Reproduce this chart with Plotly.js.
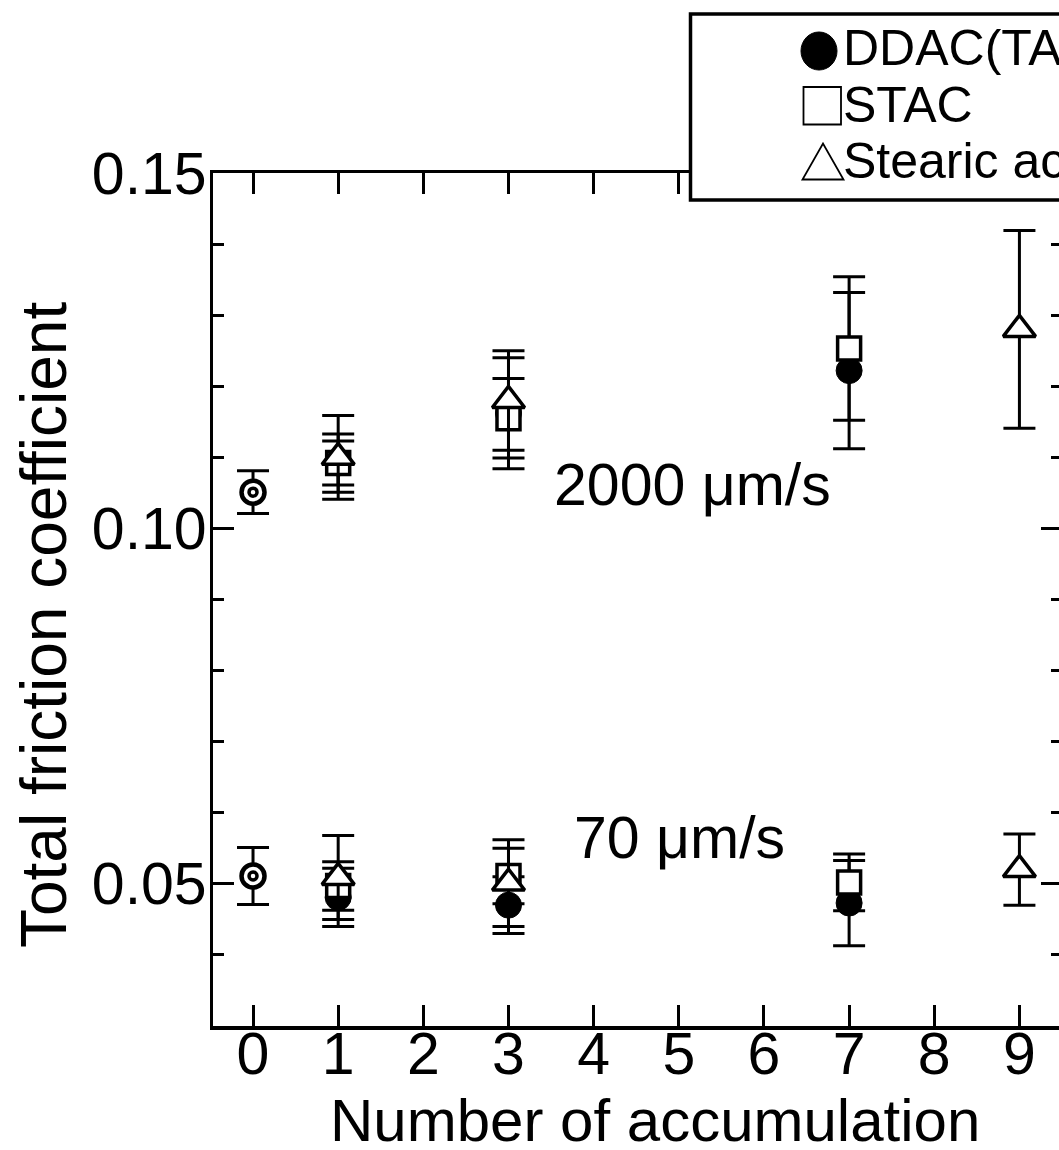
<!DOCTYPE html>
<html>
<head>
<meta charset="utf-8">
<script src="https://cdn.plot.ly/plotly-3.0.1.min.js"></script>
<style>
  html, body { margin: 0; padding: 0; background: #fff; overflow: hidden; }
  #chart { width: 1075px; height: 1150px; }
</style>
</head>
<body>
<div id="chart"></div>
<script>
// Number of accumulation for each lubricant
const accumInitial = [0];
const accumDDAC = [1, 3, 7];
const accumSTAC = [1, 3, 7];
const accumStearic = [1, 3, 9];

// Friction coefficient before accumulation
const initial2000 = [0.1051];
const initial2000Err = [0.0030];
const initial70 = [0.0511];
const initial70Err = [0.0040];

// DDAC(TAC)
const ddac2000 = [0.1092, 0.1162, 0.1222];
const ddac2000Err = [0.0041, 0.0078, 0.0110];
const ddac70 = [0.0481, 0.0470, 0.0473];
const ddac70Err = [0.0041, 0.0040, 0.0060];

// STAC
const stac2000 = [0.1092, 0.1155, 0.1253];
const stac2000Err = [0.0031, 0.0056, 0.0101];
const stac70 = [0.0497, 0.0511, 0.0502];
const stac70Err = [0.0034, 0.0039, 0.0040];

// Stearic acid
const stearic2000 = [0.1100, 0.1180, 0.1280];
const stearic2000Err = [0.0059, 0.0070, 0.0139];
const stearic70 = [0.0509, 0.0501, 0.0520];
const stearic70Err = [0.0059, 0.0061, 0.0050];

const legendLabels = ['DDAC(TAC)', 'STAC', 'Stearic acid'];
const speedLabels = ['2000 \u03BCm/s', '70 \u03BCm/s'];
const xTitle = 'Number of accumulation';
const yTitle = 'Total friction coefficient';

const FONT = 'Liberation Sans, Arial, Helvetica, sans-serif';

function errBar(arr) {
  return { type: 'data', array: arr, visible: true, color: '#000', thickness: 3, width: 16 };
}

function series(x, y, err, marker, name) {
  return {
    type: 'scatter', mode: 'markers', name: name, x: x, y: y,
    error_y: errBar(err), marker: marker, showlegend: false, cliponaxis: false
  };
}

const circleMk = { symbol: 'circle', size: 26, color: '#000', line: { color: '#000', width: 1 } };
const squareMk = { symbol: 'square', size: 23, color: '#fff', line: { color: '#000', width: 3.5 } };
const triMk = { symbol: 'triangle-up', size: 28, color: '#fff', line: { color: '#000', width: 3.5 } };
const ringOuter = { symbol: 'circle', size: 23, color: '#fff', line: { color: '#000', width: 4.5 } };
const ringInner = { symbol: 'circle-open', size: 8, color: '#000', line: { color: '#000', width: 3.5 } };

const data = [
  series(accumInitial, initial2000, initial2000Err, ringOuter, 'initial 2000'),
  series(accumInitial, initial2000, [0], ringInner, 'initial 2000 inner'),
  series(accumInitial, initial70, initial70Err, ringOuter, 'initial 70'),
  series(accumInitial, initial70, [0], ringInner, 'initial 70 inner'),
  series(accumDDAC, ddac2000, ddac2000Err, circleMk, 'DDAC(TAC) 2000'),
  series(accumDDAC, ddac70, ddac70Err, circleMk, 'DDAC(TAC) 70'),
  series(accumSTAC, stac2000, stac2000Err, squareMk, 'STAC 2000'),
  series(accumSTAC, stac70, stac70Err, squareMk, 'STAC 70'),
  series(accumStearic, stearic2000, stearic2000Err, triMk, 'Stearic acid 2000'),
  series(accumStearic, stearic70, stearic70Err, triMk, 'Stearic acid 70')
];
// inner rings carry no error bars
data[1].error_y.visible = false;
data[3].error_y.visible = false;

// page geometry
const W = 1075, H = 1150;
const M = { l: 213, r: 13, t: 173, b: 124 };
const plotW = W - M.l - M.r, plotH = H - M.t - M.b;
const px2paperX = px => (px - M.l) / plotW;
const px2paperY = py => (H - M.b - py) / plotH;

const axisCommon = {
  showline: true, linecolor: '#000', linewidth: 3.5, mirror: 'allticks',
  ticks: 'inside', tickcolor: '#000', tickwidth: 3, ticklen: 21,
  showgrid: false, zeroline: false,
  tickfont: { family: FONT, size: 59, color: '#000' }
};

// legend key: box, glyphs drawn as shapes
const legendShapes = [
  { type: 'rect', xref: 'paper', yref: 'paper',
    x0: px2paperX(690.5), x1: px2paperX(1200), y0: px2paperY(200), y1: px2paperY(14),
    line: { color: '#000', width: 3.5 }, fillcolor: '#fff', layer: 'above' },
  { type: 'circle', xref: 'paper', yref: 'paper',
    x0: px2paperX(801), x1: px2paperX(837), y0: px2paperY(70), y1: px2paperY(32),
    line: { color: '#000', width: 1 }, fillcolor: '#000', layer: 'above' },
  { type: 'rect', xref: 'paper', yref: 'paper',
    x0: px2paperX(803.5), x1: px2paperX(841), y0: px2paperY(124.5), y1: px2paperY(87),
    line: { color: '#000', width: 1.8 }, fillcolor: '#fff', layer: 'above' },
  { type: 'path', xref: 'paper', yref: 'paper',
    path: 'M ' + px2paperX(802.5) + ' ' + px2paperY(179.5) +
          ' L ' + px2paperX(843.5) + ' ' + px2paperY(179.5) +
          ' L ' + px2paperX(823) + ' ' + px2paperY(143.5) + ' Z',
    line: { color: '#000', width: 1.8 }, fillcolor: '#fff', layer: 'above' }
];

const layout = {
  width: W, height: H,
  margin: M,
  paper_bgcolor: '#fff', plot_bgcolor: '#fff',
  showlegend: false,
  xaxis: Object.assign({}, axisCommon, {
    range: [-0.47, 9.5], tick0: 0, dtick: 1, ticklabelstandoff: -26
  }),
  yaxis: Object.assign({}, axisCommon, {
    range: [0.03, 0.15], tick0: 0, dtick: 0.05, tickformat: '.2f', ticklabelstandoff: -9,
    minor: { dtick: 0.01, ticks: 'inside', ticklen: 11, tickwidth: 3, tickcolor: '#000', showgrid: false }
  }),
  shapes: legendShapes,
  annotations: [
    { xref: 'paper', yref: 'paper', x: px2paperX(44), y: px2paperY(625), text: yTitle,
      textangle: -90, showarrow: false, xanchor: 'center', yanchor: 'middle',
      font: { family: FONT, size: 64, color: '#000' } },
    { xref: 'paper', yref: 'paper', x: px2paperX(655), y: px2paperY(1120), text: xTitle,
      showarrow: false, xanchor: 'center', yanchor: 'middle',
      font: { family: FONT, size: 60, color: '#000' } },
    { xref: 'x', yref: 'y', x: 5.16, y: 0.1061, text: speedLabels[0], showarrow: false,
      xanchor: 'center', yanchor: 'middle', font: { family: FONT, size: 59, color: '#000' } },
    { xref: 'x', yref: 'y', x: 5.01, y: 0.0564, text: speedLabels[1], showarrow: false,
      xanchor: 'center', yanchor: 'middle', font: { family: FONT, size: 59, color: '#000' } }
  ]
};

const legendRowsPx = [48, 105, 161];
legendLabels.forEach((txt, i) => {
  layout.annotations.push({
    xref: 'paper', yref: 'paper', x: px2paperX(841), y: px2paperY(legendRowsPx[i]),
    text: txt, showarrow: false, xanchor: 'left', yanchor: 'middle',
    font: { family: FONT, size: 50, color: '#000' }
  });
});

Plotly.newPlot('chart', data, layout, { displayModeBar: false, staticPlot: true });
</script>
</body>
</html>
